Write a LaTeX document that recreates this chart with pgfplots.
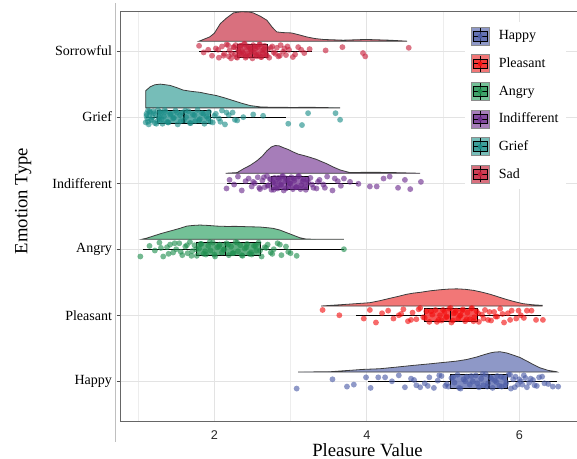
\documentclass[border=0pt]{standalone}
\usepackage{fontspec}
\setmainfont{Liberation Serif}
\newfontfamily\arialfont{Liberation Sans}
\usepackage{pgfplots}
\pgfplotsset{compat=1.18}
\usepgfplotslibrary{statistics}
\usetikzlibrary{calc}

% point colours (C) and density fills (D)
\definecolor{sadC}{HTML}{C71E3A}\definecolor{sadD}{HTML}{D9707E}
\definecolor{griefC}{HTML}{1A8C87}\definecolor{griefD}{HTML}{76BDB8}
\definecolor{indC}{HTML}{6B2A8C}\definecolor{indD}{HTML}{A67DB9}
\definecolor{angC}{HTML}{1E8E4E}\definecolor{angD}{HTML}{73C197}
\definecolor{pleC}{HTML}{F20E0E}\definecolor{pleD}{HTML}{F27777}
\definecolor{hapC}{HTML}{4A5BA6}\definecolor{hapD}{HTML}{8E98C7}
\definecolor{outl}{HTML}{3C3C3C}

\pgfplotsset{
  cloud/.style={fill=#1, draw=outl, line width=0.6pt, forget plot},
  rain/.style={only marks, mark=*, mark size=2.2pt, color=#1, draw opacity=0,
    mark options={draw opacity=0, fill=#1, fill opacity=0.62}, forget plot},
  bx/.style={forget plot, draw=black, line width=0.6pt, fill=#1, fill opacity=0.7},
  rainkey/.style 2 args={legend image code/.code={
    \draw[fill=#2, draw=black!45, line width=0.5pt] (0pt,-6.75pt) rectangle (13.5pt,6.75pt);
    \draw[black, line width=0.5pt] (6.75pt,-6.2pt) -- (6.75pt,6.2pt);
    \draw[black, fill=#1, fill opacity=0.6, line width=0.5pt] (1.5pt,-3.6pt) rectangle (12pt,3.6pt);
    \draw[black, line width=0.6pt] (1.5pt,0pt) -- (12pt,0pt);
    \fill[#1] (6.75pt,0pt) circle (1.5pt);
  }},
}

\begin{document}
\begin{tikzpicture}
\begin{axis}[
    name=ax,
    scale only axis,
    width=345.2pt, height=307.1pt,
    xmin=0.763, xmax=6.80,
    ymin=0.4, ymax=6.6,
    xtick={2,4,6},
    minor xtick={1,3,5},
    ytick={1,2,3,4,5,6},
    yticklabels={Happy,Pleasant,Angry,Indifferent,Grief,Sorrowful},
    xmajorgrids, xminorgrids, ymajorgrids,
    major grid style={black!11, line width=0.5pt},
    minor grid style={black!7, line width=0.4pt},
    axis line style={black!60, line width=0.6pt},
    tick align=outside,
    xtick style={draw=none},
    minor tick length=0pt,
    ytick style={black!70, line width=0.5pt},
    major tick length=2.5pt,
    /pgf/number format/assume math mode=true,
    xticklabel style={font=\arialfont\fontsize{9.5}{11}\selectfont, text=black!85, yshift=-1pt},
    yticklabel style={font=\fontsize{10.5}{12}\selectfont},
    xlabel={Pleasure Value},
    ylabel={Emotion Type},
    every axis x label/.style={at={(axis description cs:0.5377,-0.086)}, anchor=base,
      font=\fontsize{14}{16}\selectfont},
    every axis y label/.style={at={(axis description cs:-0.2011,0.537)}, rotate=90, anchor=base,
      font=\fontsize{14}{16}\selectfont},
    boxplot/draw direction=x,
    boxplot/box extend=0.2,
    boxplot/whisker extend=0,
    boxplot/every median/.style={line width=1.1pt},
    legend style={at={(axis description cs:0.750,0.976)}, anchor=north west,
      draw=none, fill=white, inner sep=4pt, row sep=6.7pt, column sep=5pt,
      font=\fontsize{10.5}{12}\selectfont, cells={anchor=west}},
]

% ---- Sorrowful (Sad), y = 6
\addplot[cloud=sadD] coordinates {(1.80,6.150) (1.94,6.215) (2.00,6.27) (2.08,6.417) (2.16,6.50)
  (2.25,6.578) (2.35,6.595) (2.45,6.593) (2.51,6.578) (2.60,6.53) (2.69,6.467) (2.76,6.36)
  (2.82,6.29) (2.90,6.28) (3.01,6.275) (3.10,6.25) (3.21,6.215) (3.32,6.19) (3.43,6.176)
  (3.69,6.165) (3.99,6.176) (4.30,6.165) (4.53,6.15)} -- cycle;
\addplot[rain=sadC] coordinates {(1.80,6.08) (1.86,5.98) (1.92,6.02) (1.97,5.93) (2.02,6.04)
  (2.06,5.90) (2.10,6.07) (2.13,5.96) (2.16,6.10) (2.19,5.92) (2.20,6.01) (2.22,5.89)
  (2.25,6.06) (2.27,5.95) (2.28,6.09) (2.29,5.91) (2.31,6.03) (2.33,5.97) (2.35,6.08)
  (2.36,5.94) (2.37,6.00) (2.39,6.11) (2.41,5.90) (2.43,6.05) (2.44,5.96) (2.45,6.07)
  (2.46,5.93) (2.48,6.02) (2.50,5.89) (2.51,6.09) (2.52,5.98) (2.54,6.04) (2.56,5.92)
  (2.57,6.06) (2.58,5.95) (2.60,6.10) (2.62,5.91) (2.63,6.01) (2.64,5.97) (2.66,6.08)
  (2.69,5.93) (2.70,6.03) (2.72,5.90) (2.76,6.07) (2.80,5.96) (2.82,6.05) (2.84,5.92)
  (2.87,6.09) (2.90,5.99) (2.92,6.04) (2.94,5.94) (2.98,6.02) (3.03,5.91) (3.10,6.06)
  (3.18,5.97) (3.25,6.03) (3.46,6.01) (3.68,6.06) (3.95,5.97) (3.98,5.92) (4.55,6.05)
  (2.05,6.02) (2.12,5.93) (2.18,6.09) (2.23,5.96) (2.26,6.06) (2.30,5.90) (2.32,6.00)
  (2.34,6.08) (2.38,5.97) (2.40,6.11) (2.42,5.92) (2.47,6.04) (2.49,5.99) (2.53,6.07)
  (2.55,5.94) (2.59,6.10) (2.61,5.91) (2.65,6.03) (2.68,5.95) (2.74,6.05) (2.78,5.98)
  (2.86,5.93) (2.96,6.07) (3.06,5.95) (3.14,6.02)};
\addplot[bx=sadC, boxplot prepared={draw position=6, lower whisker=1.80,
  lower quartile=2.30, median=2.50, upper quartile=2.69, upper whisker=3.28}] coordinates {};

% ---- Grief, y = 5
\addplot[cloud=griefD] coordinates {(1.10,5.14) (1.10,5.40) (1.16,5.46) (1.22,5.49) (1.29,5.50)
  (1.36,5.49) (1.42,5.48) (1.50,5.45) (1.59,5.41) (1.70,5.39) (1.81,5.376) (1.92,5.35)
  (2.03,5.326) (2.14,5.29) (2.25,5.25) (2.36,5.21) (2.47,5.175) (2.60,5.155) (2.73,5.15)
  (3.00,5.147) (3.30,5.148) (3.65,5.14)} -- cycle;
\addplot[rain=griefC] coordinates {(1.10,4.92) (1.11,5.05) (1.12,4.98) (1.13,5.10) (1.14,4.89)
  (1.15,5.03) (1.16,5.07) (1.18,4.95) (1.19,5.00) (1.20,5.09) (1.22,4.91) (1.23,5.04)
  (1.25,4.94) (1.26,5.11) (1.28,4.97) (1.30,5.06) (1.32,4.90) (1.34,5.01) (1.36,5.08)
  (1.38,4.93) (1.40,4.92) (1.43,5.05) (1.46,4.98) (1.49,5.10) (1.52,4.89) (1.55,5.03)
  (1.58,5.07) (1.60,4.95) (1.63,5.00) (1.66,5.09) (1.69,4.91) (1.72,5.04) (1.75,4.94)
  (1.78,5.11) (1.81,4.97) (1.84,5.06) (1.87,4.90) (1.90,5.01) (1.93,5.08) (1.95,4.93)
  (1.98,4.92) (2.02,5.05) (2.06,4.98) (2.10,5.10) (2.14,4.89) (2.19,5.03) (2.24,5.07)
  (2.30,4.95) (2.38,5.00) (2.51,5.04) (2.64,5.02) (2.97,4.90) (3.15,4.88) (3.23,5.06)
  (3.59,5.06) (3.65,4.96)
  (1.11,5.02) (1.13,4.93) (1.15,5.09) (1.17,4.96) (1.21,5.06) (1.24,4.90) (1.27,5.00)
  (1.29,5.08) (1.31,4.97) (1.35,5.11) (1.39,4.92) (1.42,5.04) (1.47,4.99) (1.51,5.07)
  (1.56,4.94) (1.62,5.10) (1.68,4.91) (1.74,5.03) (1.80,4.95) (1.86,5.05) (1.92,4.98)
  (2.00,5.02) (2.08,4.93) (2.16,5.07) (2.27,4.96)};
\addplot[bx=griefC, boxplot prepared={draw position=5, lower whisker=1.10,
  lower quartile=1.26, median=1.60, upper quartile=1.95, upper whisker=2.94}] coordinates {};

% ---- Indifferent, y = 4
\addplot[cloud=indD] coordinates {(2.15,4.15) (2.30,4.16) (2.38,4.216) (2.47,4.27) (2.56,4.34)
  (2.63,4.41) (2.69,4.49) (2.75,4.55) (2.80,4.57) (2.85,4.565) (2.90,4.54) (2.97,4.51)
  (3.04,4.47) (3.10,4.44) (3.17,4.42) (3.26,4.39) (3.34,4.36) (3.40,4.33) (3.47,4.297)
  (3.56,4.245) (3.65,4.20) (3.78,4.16) (4.00,4.165) (4.30,4.162) (4.70,4.15)} -- cycle;
\addplot[rain=indC] coordinates {(2.16,3.92) (2.20,4.05) (2.26,3.98) (2.31,4.10) (2.36,3.89)
  (2.41,4.03) (2.45,4.07) (2.49,3.95) (2.53,4.00) (2.57,4.09) (2.60,3.91) (2.63,4.04)
  (2.66,3.94) (2.69,4.11) (2.71,3.97) (2.73,4.06) (2.75,3.90) (2.77,4.01) (2.79,4.08)
  (2.81,3.93) (2.83,3.92) (2.85,4.05) (2.87,3.98) (2.89,4.10) (2.91,3.89) (2.93,4.03)
  (2.95,4.07) (2.97,3.95) (2.99,4.00) (3.01,4.09) (3.03,3.91) (3.05,4.04) (3.08,3.94)
  (3.11,4.11) (3.14,3.97) (3.17,4.06) (3.20,3.90) (3.23,4.01) (3.26,4.08) (3.30,3.93)
  (3.34,3.92) (3.38,4.05) (3.43,3.98) (3.48,4.10) (3.55,3.89) (3.62,4.03) (3.70,4.07)
  (3.78,4.02) (3.89,3.99) (4.04,3.95) (4.13,3.95) (4.22,4.07) (4.30,4.10) (4.41,3.93)
  (4.50,4.05) (4.57,3.91) (4.71,4.02)
  (2.51,4.02) (2.59,3.93) (2.65,4.09) (2.70,3.96) (2.74,4.06) (2.78,3.90) (2.80,4.00)
  (2.84,4.08) (2.88,3.97) (2.90,4.11) (2.94,3.92) (2.96,4.04) (3.00,3.99) (3.04,4.07)
  (3.07,3.94) (3.10,4.10) (3.13,3.91) (3.16,4.03) (3.19,3.95) (3.22,4.05) (3.28,3.98)
  (3.36,4.02) (3.45,3.93) (3.58,4.07) (3.66,3.96)};
\addplot[bx=indC, boxplot prepared={draw position=4, lower whisker=2.16,
  lower quartile=2.75, median=2.95, upper quartile=3.24, upper whisker=3.89}] coordinates {};

% ---- Angry, y = 3
\addplot[cloud=angD] coordinates {(1.05,3.15) (1.12,3.17) (1.20,3.20) (1.31,3.24) (1.42,3.275)
  (1.53,3.31) (1.64,3.35) (1.72,3.36) (1.81,3.366) (1.92,3.36) (2.03,3.35) (2.16,3.345)
  (2.29,3.346) (2.45,3.34) (2.60,3.336) (2.70,3.325) (2.77,3.316) (2.86,3.29) (2.95,3.25)
  (3.04,3.21) (3.12,3.174) (3.20,3.155) (3.30,3.151) (3.70,3.15)} -- cycle;
\addplot[rain=angC] coordinates {(1.03,2.89) (1.15,3.05) (1.22,2.98) (1.28,3.10) (1.33,2.89)
  (1.38,3.03) (1.42,3.07) (1.46,2.95) (1.50,3.00) (1.54,3.09) (1.58,2.91) (1.62,3.04)
  (1.65,2.94) (1.68,3.11) (1.71,2.97) (1.74,3.06) (1.77,2.90) (1.80,3.01) (1.83,3.08)
  (1.86,2.93) (1.89,2.92) (1.92,3.05) (1.95,2.98) (1.98,3.10) (2.01,2.89) (2.04,3.03)
  (2.07,3.07) (2.10,2.95) (2.13,3.00) (2.16,3.09) (2.19,2.91) (2.22,3.04) (2.25,2.94)
  (2.28,3.11) (2.31,2.97) (2.34,3.06) (2.37,2.90) (2.40,3.01) (2.43,3.08) (2.46,2.93)
  (2.49,2.92) (2.52,3.05) (2.55,2.98) (2.58,3.10) (2.62,2.89) (2.66,3.03) (2.70,3.07)
  (2.74,2.95) (2.78,3.00) (2.83,3.09) (2.88,2.91) (2.94,3.04) (3.00,2.94) (3.08,2.90)
  (3.70,3.00)
  (1.30,3.02) (1.40,2.93) (1.48,3.09) (1.56,2.96) (1.64,3.06) (1.70,2.90) (1.76,3.00)
  (1.82,3.08) (1.88,2.97) (1.94,3.11) (2.00,2.92) (2.06,3.04) (2.12,2.99) (2.18,3.07)
  (2.24,2.94) (2.30,3.10) (2.36,2.91) (2.42,3.03) (2.48,2.95) (2.54,3.05) (2.60,2.98)
  (2.68,3.02) (2.76,2.93) (2.86,3.07) (2.97,2.96)};
\addplot[bx=angC, boxplot prepared={draw position=3, lower whisker=1.06,
  lower quartile=1.76, median=2.15, upper quartile=2.60, upper whisker=3.70}] coordinates {};

% ---- Pleasant, y = 2
\addplot[cloud=pleD] coordinates {(3.40,2.14) (3.74,2.166) (4.04,2.19) (4.17,2.22) (4.30,2.256)
  (4.41,2.285) (4.52,2.317) (4.61,2.335) (4.70,2.347) (4.83,2.37) (4.96,2.386) (5.07,2.396)
  (5.18,2.40) (5.29,2.393) (5.40,2.377) (5.51,2.35) (5.62,2.317) (5.72,2.28) (5.83,2.24)
  (5.94,2.205) (6.05,2.175) (6.18,2.158) (6.30,2.15) (6.30,2.14)} -- cycle;
\addplot[rain=pleC] coordinates {(3.42,2.08) (3.64,2.00) (3.96,1.95) (4.04,2.08) (4.12,1.89)
  (4.20,2.03) (4.28,2.07) (4.35,1.95) (4.42,2.00) (4.48,2.09) (4.54,1.91) (4.60,2.04)
  (4.65,1.94) (4.70,2.11) (4.74,1.97) (4.78,2.06) (4.82,1.90) (4.86,2.01) (4.90,2.08)
  (4.94,1.93) (4.98,1.92) (5.02,2.05) (5.05,1.98) (5.08,2.10) (5.11,1.89) (5.14,2.03)
  (5.17,2.07) (5.20,1.95) (5.23,2.00) (5.26,2.09) (5.29,1.91) (5.32,2.04) (5.35,1.94)
  (5.38,2.11) (5.41,1.97) (5.44,2.06) (5.47,1.90) (5.51,2.01) (5.55,2.08) (5.59,1.93)
  (5.63,1.92) (5.67,2.05) (5.71,1.98) (5.75,2.10) (5.80,1.89) (5.85,2.03) (5.90,2.07)
  (5.96,1.95) (6.02,2.00) (6.10,2.07) (6.16,2.07) (6.22,1.93) (6.31,1.93)
  (4.45,2.02) (4.58,1.93) (4.68,2.09) (4.76,1.96) (4.84,2.06) (4.92,1.90) (4.96,2.00)
  (5.00,2.08) (5.04,1.97) (5.10,2.11) (5.13,1.92) (5.16,2.04) (5.22,1.99) (5.25,2.07)
  (5.31,1.94) (5.37,2.10) (5.40,1.91) (5.46,2.03) (5.53,1.95) (5.61,2.05) (5.69,1.98)
  (5.78,2.02) (5.88,1.93) (5.99,2.07) (6.06,1.96)};
\addplot[bx=pleC, boxplot prepared={draw position=2, lower whisker=3.86,
  lower quartile=4.75, median=5.10, upper quartile=5.45, upper whisker=6.29}] coordinates {};

% ---- Happy, y = 1
\addplot[cloud=hapD] coordinates {(3.10,1.14) (3.52,1.145) (3.95,1.18) (4.17,1.19) (4.39,1.215)
  (4.60,1.24) (4.83,1.265) (5.00,1.285) (5.18,1.306) (5.31,1.33) (5.44,1.367) (5.53,1.40)
  (5.62,1.43) (5.68,1.443) (5.75,1.447) (5.84,1.428) (5.92,1.397) (6.01,1.36) (6.10,1.306)
  (6.19,1.25) (6.27,1.205) (6.38,1.165) (6.49,1.145) (6.50,1.14)} -- cycle;
\addplot[rain=hapC] coordinates {(3.08,0.89) (3.55,1.03) (3.74,0.92) (3.83,0.95) (3.99,1.06)
  (4.05,0.90) (4.15,1.06) (4.24,1.06) (4.33,1.00) (4.42,1.09) (4.50,0.91) (4.58,1.04)
  (4.65,0.94) (4.70,0.91) (4.76,0.97) (4.82,1.06) (4.88,0.90) (4.93,1.01) (4.98,1.08)
  (5.03,0.93) (5.07,0.92) (5.11,1.05) (5.15,0.98) (5.19,1.10) (5.23,0.89) (5.27,1.03)
  (5.31,1.07) (5.35,0.95) (5.39,1.00) (5.43,1.09) (5.47,0.91) (5.50,1.04) (5.53,0.94)
  (5.56,1.11) (5.59,0.97) (5.62,1.06) (5.65,0.90) (5.68,1.01) (5.71,1.08) (5.74,0.93)
  (5.77,0.92) (5.80,1.05) (5.83,0.98) (5.86,1.10) (5.89,0.89) (5.92,1.03) (5.95,1.07)
  (5.98,0.95) (6.02,1.00) (6.06,1.09) (6.10,0.91) (6.15,1.04) (6.20,0.94) (6.26,1.06)
  (6.33,0.97) (6.44,0.92) (6.51,0.92)
  (4.62,1.02) (4.80,0.93) (4.95,1.09) (5.05,0.96) (5.13,1.06) (5.21,0.90) (5.29,1.00)
  (5.37,1.08) (5.45,0.97) (5.52,1.11) (5.58,0.92) (5.64,1.04) (5.70,0.99) (5.76,1.07)
  (5.82,0.94) (5.88,1.10) (5.94,0.91) (6.00,1.03) (6.04,0.95) (6.08,1.05) (6.13,0.98)
  (6.18,1.02) (6.23,0.93) (6.30,1.07) (6.38,0.96)};
\addplot[bx=hapC, boxplot prepared={draw position=1, lower whisker=4.01,
  lower quartile=5.10, median=5.60, upper quartile=5.85, upper whisker=6.49}] coordinates {};

% ---- legend
\addlegendimage{rainkey={hapC}{hapD}}\addlegendentry{Happy}
\addlegendimage{rainkey={pleC}{pleD}}\addlegendentry{Pleasant}
\addlegendimage{rainkey={angC}{angD}}\addlegendentry{Angry}
\addlegendimage{rainkey={indC}{indD}}\addlegendentry{Indifferent}
\addlegendimage{rainkey={griefC}{griefD}}\addlegendentry{Grief}
\addlegendimage{rainkey={sadC}{sadD}}\addlegendentry{Sad}
\end{axis}
\draw[black!25, line width=0.5pt] ($(ax.south west)+(-3.75pt,-15.75pt)$) -- ($(ax.north west)+(-3.75pt,6pt)$);
\pgfresetboundingbox
\path ($(ax.south west)+(-90pt,-28.5pt)$) rectangle ($(ax.north west)+(342.75pt,8.6pt)$);
\end{tikzpicture}
\end{document}
